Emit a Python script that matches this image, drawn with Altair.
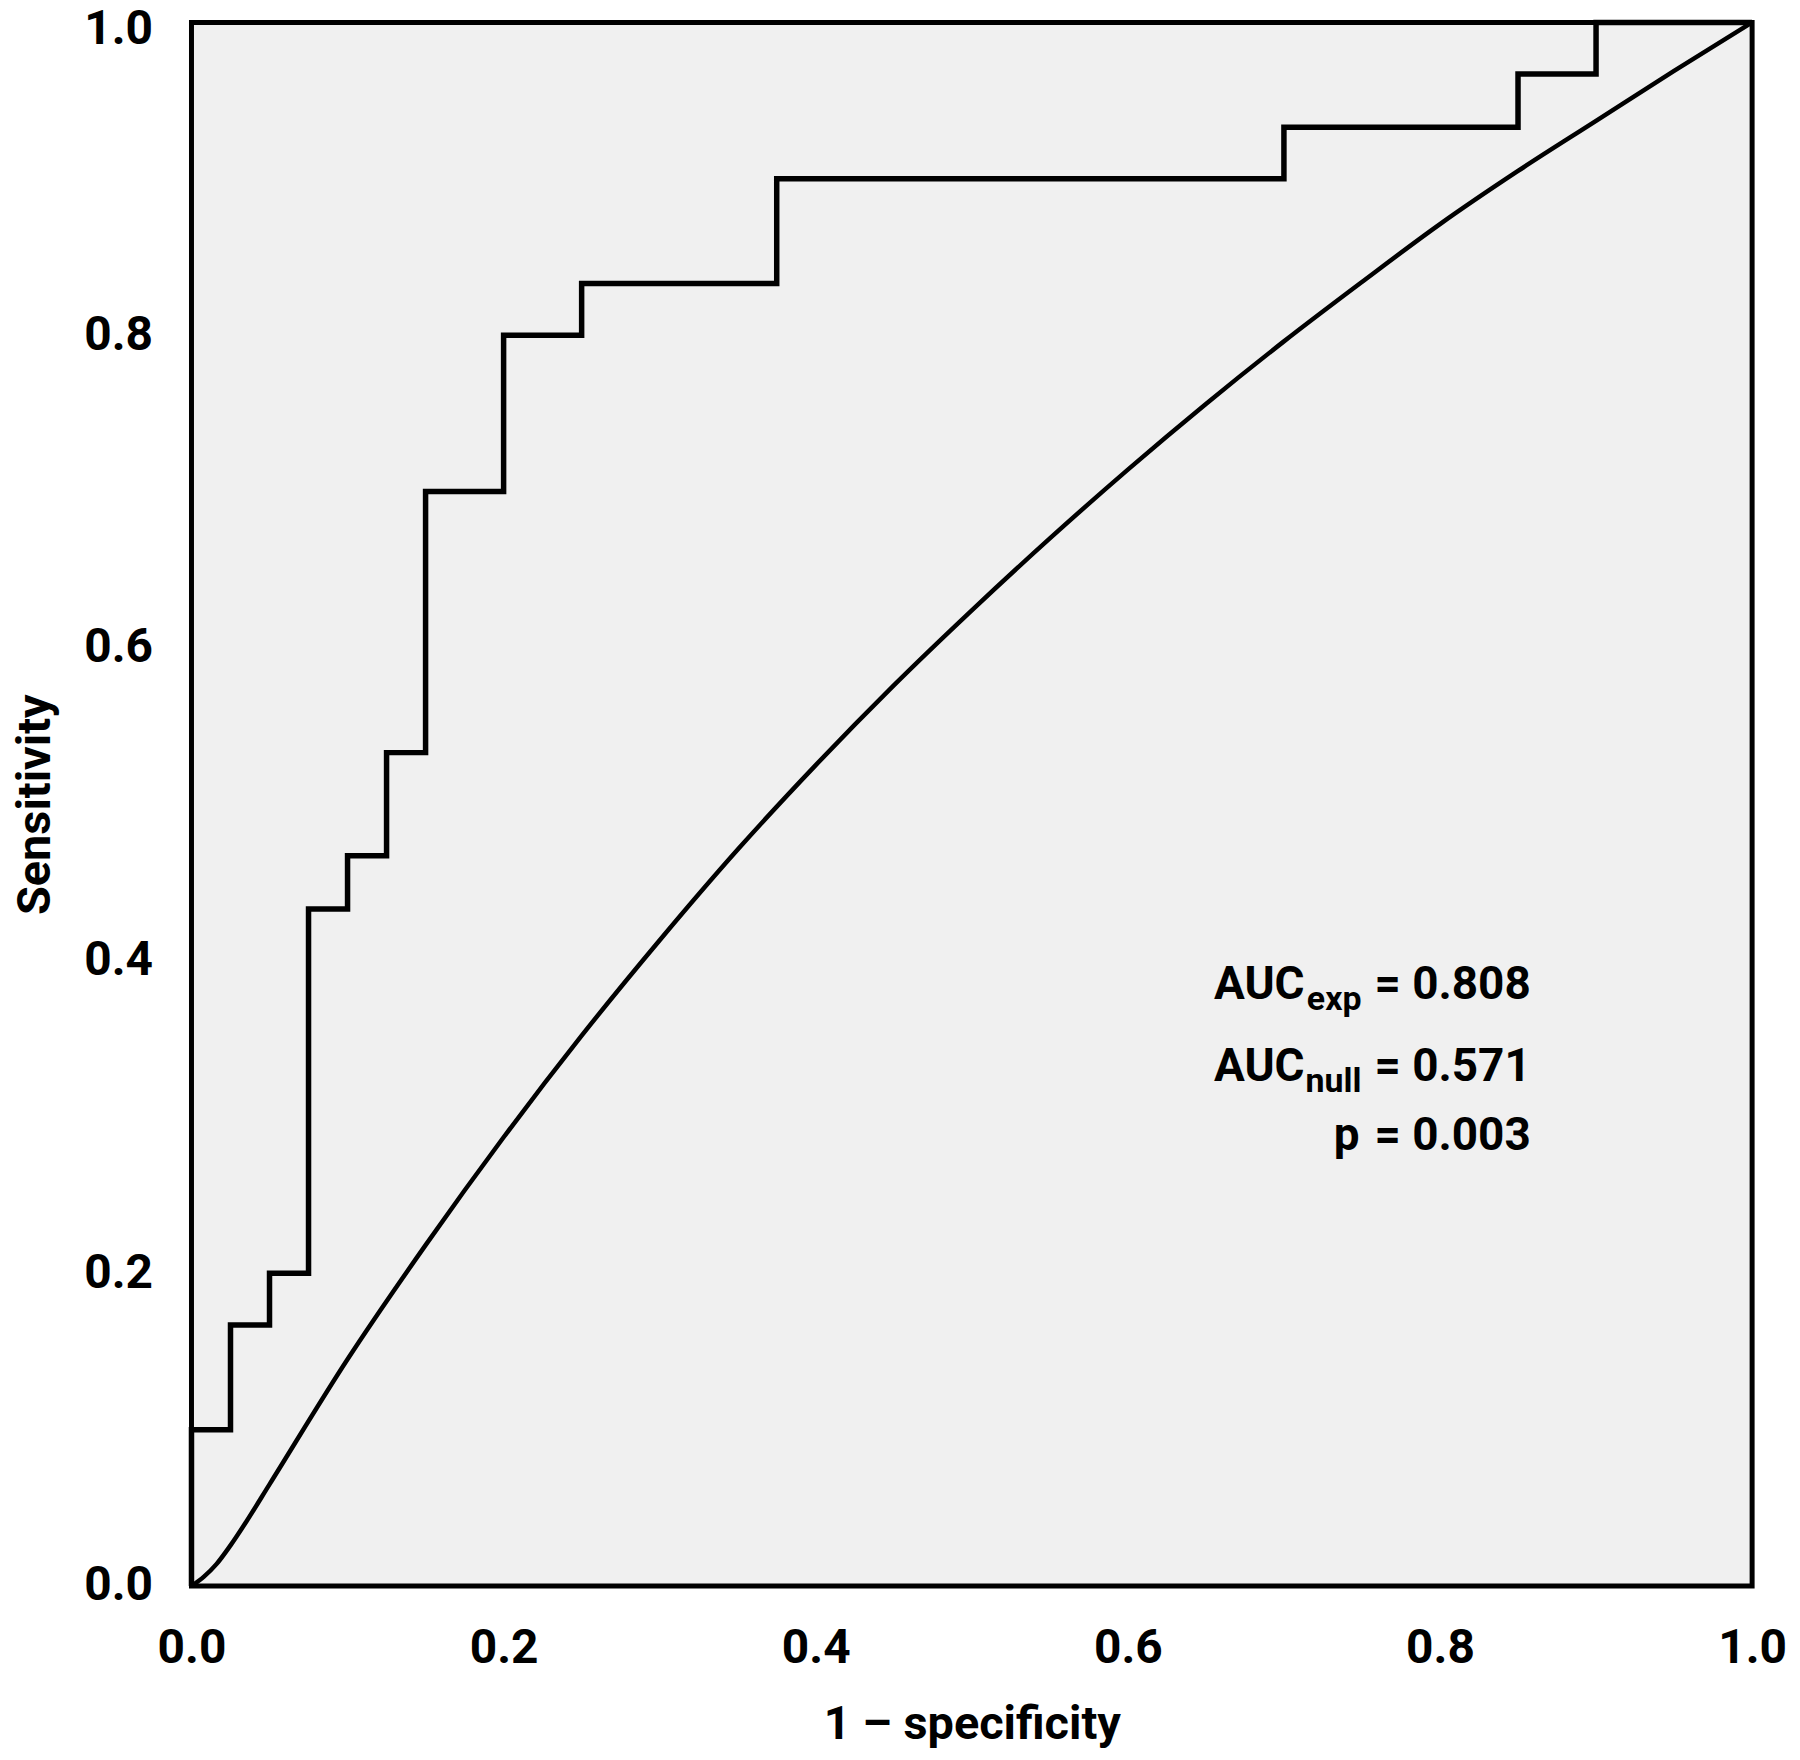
import altair as alt
import pandas as pd

# ROC curve vertices (1 - specificity, sensitivity), step curve
fpr = [0.0, 0.0, 0.025, 0.05, 0.075, 0.1, 0.125, 0.15, 0.2, 0.25, 0.375, 0.7, 0.85, 0.9, 1.0]
tpr = [0.0, 0.1, 0.167, 0.2, 0.433, 0.467, 0.533, 0.7, 0.8, 0.833, 0.9, 0.933, 0.967, 1.0, 1.0]

# null ROC curve
null_x = [0.0, 0.008, 0.016, 0.025, 0.035, 0.05, 0.1, 0.15, 0.2, 0.25, 0.3, 0.35, 0.4, 0.45, 0.5,
          0.55, 0.6, 0.65, 0.7, 0.75, 0.8, 0.85, 0.9, 0.95, 1.0]
null_y = [0.0, 0.006, 0.014, 0.026, 0.041, 0.065, 0.145, 0.218, 0.287, 0.352, 0.413, 0.471, 0.525,
          0.576, 0.624, 0.670, 0.714, 0.756, 0.796, 0.834, 0.871, 0.905, 0.937, 0.969, 1.0]

tick_values = [0.0, 0.2, 0.4, 0.6, 0.8, 1.0]

ann_main = ["AUC", "AUC"]
ann_sub = ["exp", "null"]
ann_values = ["= 0.808", "= 0.571", "= 0.003"]
ann_x = 0.758
ann_y = [0.3755, 0.3232, 0.2786]

FONT = "Roboto"

roc = pd.DataFrame({"x": fpr, "y": tpr, "i": list(range(len(fpr)))})
null = pd.DataFrame({"x": null_x, "y": null_y, "i": list(range(len(null_x)))})
vals = pd.DataFrame({"x": [ann_x] * 3, "y": ann_y, "t": ann_values})
mains = pd.DataFrame({"x": [ann_x] * 2, "y": ann_y[:2], "t": ann_main})
subs = pd.DataFrame({"x": [ann_x] * 2, "y": ann_y[:2], "t": ann_sub})
prow = pd.DataFrame({"x": [ann_x], "y": [ann_y[2]], "t": ["p"]})

xs = alt.Scale(domain=[0, 1], nice=False, zero=False)
ys = alt.Scale(domain=[0, 1], nice=False, zero=False)

common_axis = dict(
    values=tick_values, format=".1f", ticks=False, domain=False, grid=False,
    labelFont=FONT, labelFontSize=48, labelFontWeight="bold", labelColor="black",
    labelPadding=39, labelFlush=False, labelOverlap=False,
    titleFont=FONT, titleFontSize=47, titleFontWeight="bold", titleColor="black",
)

x_enc = alt.X("x:Q", scale=xs, axis=alt.Axis(title="1 – specificity", titleY=153,
                                              titleBaseline="alphabetic", **common_axis))
y_enc = alt.Y("y:Q", scale=ys, axis=alt.Axis(
    title="Sensitivity", titleX=-142, titleY=784, titleAngle=-90, titleAlign="center",
    titleBaseline="alphabetic",
    labelOffset={"condition": {"test": "datum.value == 1", "value": 7}, "value": 0},
    **common_axis))

null_line = alt.Chart(null).mark_line(
    color="black", strokeWidth=4.5, interpolate="monotone"
).encode(x=x_enc, y=y_enc, order="i:Q")

roc_line = alt.Chart(roc).mark_line(
    color="black", strokeWidth=5.5, interpolate="step-after", strokeJoin="miter"
).encode(x=x_enc, y=y_enc, order="i:Q")

text_style = dict(font=FONT, fontWeight="bold", color="black", baseline="alphabetic")

t_vals = alt.Chart(vals).mark_text(align="left", fontSize=46, **text_style).encode(
    x=x_enc, y=y_enc, text="t:N")
t_main = alt.Chart(mains).mark_text(align="right", fontSize=46, dx=-70, **text_style).encode(
    x=x_enc, y=y_enc, text="t:N")
t_sub = alt.Chart(subs).mark_text(align="right", fontSize=34, dx=-13, dy=11, **text_style).encode(
    x=x_enc, y=y_enc, text="t:N")
t_p = alt.Chart(prow).mark_text(align="right", fontSize=46, dx=-15, **text_style).encode(
    x=x_enc, y=y_enc, text="t:N")

chart = alt.layer(
    null_line, roc_line, t_vals, t_main, t_sub, t_p
).properties(
    width=1565, height=1568,
    autosize=alt.AutoSizeParams(type="none"),
    padding={"left": 184, "top": 12, "right": 40, "bottom": 170},
    background="white",
).configure_view(
    fill="#f0f0f0", stroke="black", strokeWidth=5
)

chart.save("out.html", embed_options={"renderer": "svg", "actions": False})
